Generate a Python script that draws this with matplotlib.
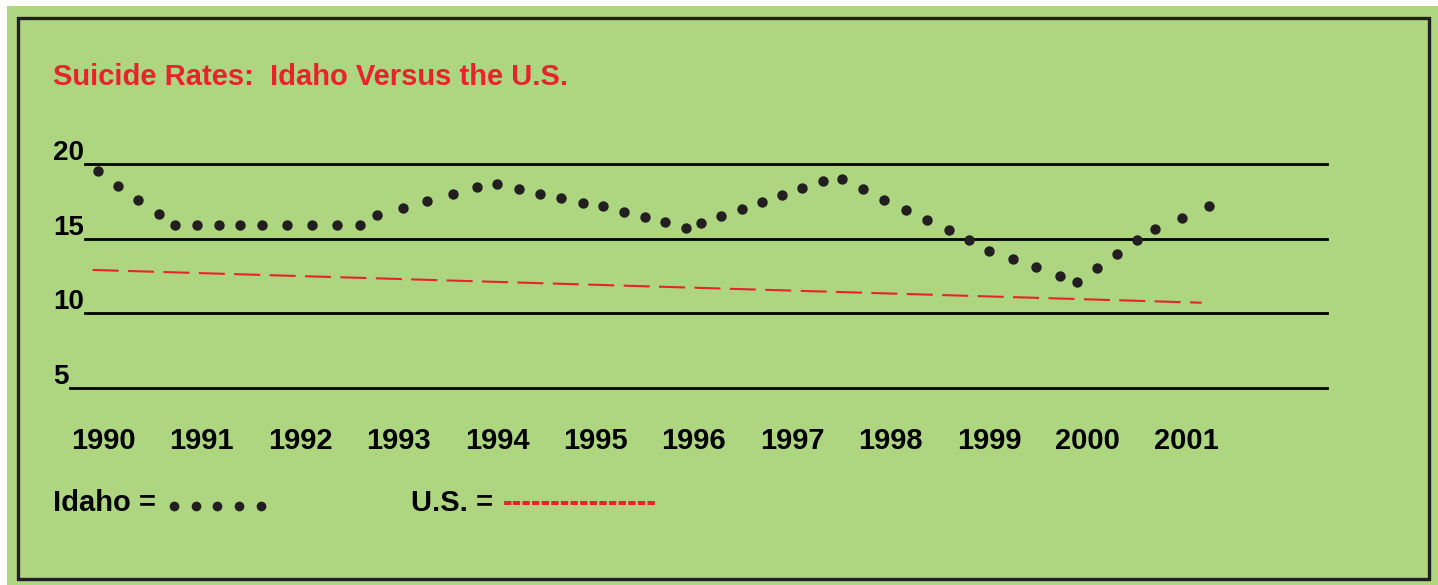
import matplotlib.pyplot as plt
import matplotlib.transforms as mtransforms
from matplotlib.patches import Rectangle

plt.rcParams['font.family'] = ['Liberation Sans', 'DejaVu Sans']

W, H = 1438, 585
GREEN = '#AED681'
RED = '#E8232B'
INK = '#231F20'

# ---- data ----
years = [1990, 1991, 1992, 1993, 1994, 1995, 1996, 1997, 1998, 1999, 2000, 2001]
year_labels = [str(y) for y in years]
grid_levels = [20, 15, 10, 5]

idaho_t = [1989.94, 1990.15, 1990.35, 1990.56, 1990.73, 1990.95, 1991.17, 1991.39,
           1991.61, 1991.87, 1992.12, 1992.37, 1992.61, 1992.78, 1993.04, 1993.29,
           1993.55, 1993.80, 1994.00, 1994.22, 1994.44, 1994.65, 1994.87, 1995.08,
           1995.29, 1995.50, 1995.71, 1995.92, 1996.07, 1996.28, 1996.49, 1996.69,
           1996.90, 1997.10, 1997.31, 1997.50, 1997.72, 1997.93, 1998.16, 1998.37,
           1998.59, 1998.80, 1999.00, 1999.24, 1999.48, 1999.72, 1999.89, 2000.10,
           2000.30, 2000.50, 2000.69, 2000.96, 2001.23]
idaho_rate = [19.53, 18.54, 17.56, 16.62, 15.91, 15.91, 15.91, 15.91,
              15.91, 15.91, 15.91, 15.91, 15.91, 16.60, 17.05, 17.52,
              17.99, 18.44, 18.64, 18.30, 18.01, 17.70, 17.40, 17.16,
              16.80, 16.44, 16.09, 15.73, 16.02, 16.49, 16.96, 17.45,
              17.92, 18.39, 18.88, 18.97, 18.30, 17.60, 16.91, 16.22,
              15.55, 14.88, 14.18, 13.62, 13.07, 12.50, 12.06, 13.02,
              13.96, 14.90, 15.62, 16.40, 17.18]

us_t = [1989.89, 2001.16]
us_rate = [12.89, 10.69]

# ---- figure ----
fig = plt.figure(figsize=(W / 100, H / 100), dpi=100, facecolor='white')
fig.patches.append(Rectangle((7 / W, 0), 1 - 7 / W, 1 - 6 / H, transform=fig.transFigure,
                             facecolor=GREEN, edgecolor='none', zorder=-2))
fig.patches.append(Rectangle((18 / W, 1 - 579 / H), (1429 - 18) / W, (579 - 18) / H,
                             transform=fig.transFigure, fill=False, edgecolor=INK,
                             linewidth=2.4, zorder=-1))

ax = fig.add_axes([0, 0, 1, 1])
ax.set_zorder(2)
ax.set_facecolor('none')
ax.set_xlim(1988.949, 2003.561)
ax.set_ylim(-8.255, 31.007)
ax.axis('off')

ax_y = mtransforms.blended_transform_factory(ax.transAxes, ax.transData)
x_ax = mtransforms.blended_transform_factory(ax.transData, ax.transAxes)

# horizontal rules with labels
for lvl in grid_levels:
    lab = str(lvl)
    ax.text(53 / W, lvl + 4 / 14.9, lab, transform=ax_y, ha='left', va='baseline',
            fontsize=20, fontweight='bold', color='black')
    ax.axhline(lvl, xmin=(53 + 15.5 * len(lab) + 1) / W, xmax=1327 / W,
               color='black', linewidth=2)

# year labels
for yr, lab in zip(years, year_labels):
    ax.text(yr, 0.232, lab, transform=x_ax, ha='center', va='baseline',
            fontsize=21, fontweight='bold', color='black')

# series
ax.plot(us_t, us_rate, color=RED, linewidth=1.5, dashes=(12.5, 4.5), zorder=3)
ax.plot(idaho_t, idaho_rate, 'o', markersize=7.5, color=INK, markeredgewidth=0, zorder=4)

# title
fig.text(52.7 / W, 1 - 85 / H, 'Suicide Rates:  Idaho Versus the U.S.', color=RED,
         fontsize=21, fontweight='bold', ha='left', va='baseline')

# legend
fig.text(53 / W, 1 - 511 / H, 'Idaho =', fontsize=21, fontweight='bold',
         ha='left', va='baseline')
ax.plot([(174 + 21.7 * i) / W for i in range(5)], [1 - 505.7 / H] * 5, 'o',
        markersize=7, color=INK, markeredgewidth=0, transform=fig.transFigure, clip_on=False)
fig.text(410.7 / W, 1 - 511 / H, 'U.S. =', fontsize=21, fontweight='bold',
         ha='left', va='baseline')
fig.text(502.7 / W, 1 - 511 / H, '-' * 16, fontsize=21, fontweight='bold', color=RED,
         ha='left', va='baseline')

fig.savefig('out.png', dpi=100, facecolor='white')
